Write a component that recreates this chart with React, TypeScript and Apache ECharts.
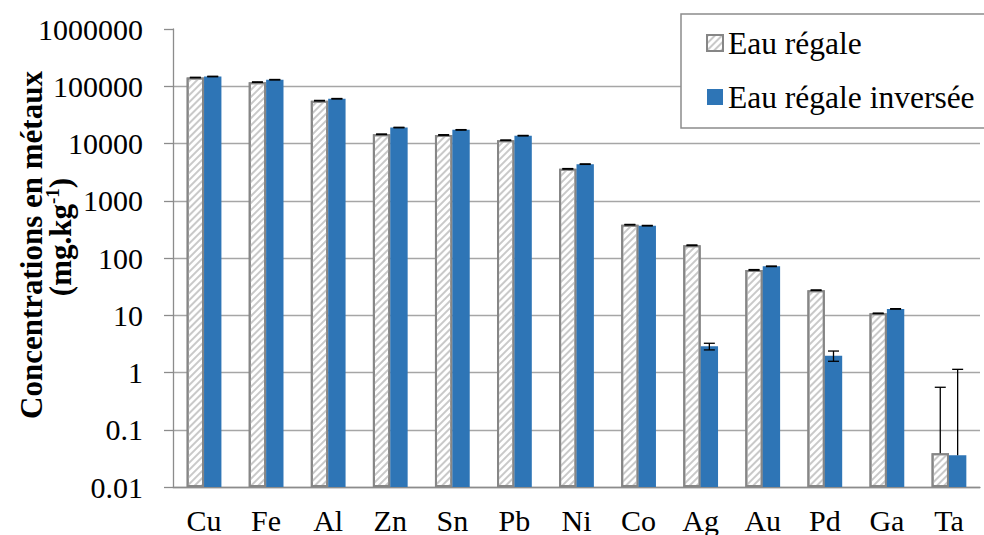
import React, { useEffect, useRef } from 'react';
import * as echarts from 'echarts';

const categories = ['Cu', 'Fe', 'Al', 'Zn', 'Sn', 'Pb', 'Ni', 'Co', 'Ag', 'Au', 'Pd', 'Ga', 'Ta'];
const seriesNames = ['Eau régale', 'Eau régale inversée'];
const eauRegale = [142000, 118000, 56000, 14500, 14100, 11400, 3610, 382, 167, 62, 27.4, 10.8, 0.039];
const eauRegaleInversee = [148000, 130000, 60500, 19000, 17300, 13700, 4360, 367, 2.86, 71.6, 1.97, 12.9, 0.036];
const errRegale = [1500, 1200, 600, 150, 150, 120, 40, 4, 2, 0.8, 0.3, 0.1, 0.513];
const errInversee = [1500, 1300, 600, 200, 180, 140, 45, 4, 0.38, 0.8, 0.4, 0.13, 1.1];
const yTickLabels = ['0.01', '0.1', '1', '10', '100', '1000', '10000', '100000', '1000000'];
const yMin = 0.01;
const yMax = 1000000;

const FONT = 'Liberation Serif';
const BLUE = '#2E75B6';
const BAR_W = 0.28;

export default function App() {
  const ref = useRef<HTMLDivElement>(null);
  useEffect(() => {
    const chart = echarts.init(ref.current!, null, { renderer: 'svg' });

    const errData: any[] = [];
    categories.forEach((_, i) => {
      const v0 = eauRegale[i], e0 = errRegale[i];
      const v1 = eauRegaleInversee[i], e1 = errInversee[i];
      errData.push([i, v0, v0 - e0 > 0 ? v0 - e0 : 0, v0 + e0, 0]);
      errData.push([i, v1, v1 - e1 > 0 ? v1 - e1 : 0, v1 + e1, 1]);
    });

    const option: any = {
      animation: false,
      textStyle: { fontFamily: FONT },
      grid: { left: 173, right: 4, top: 29, bottom: 47 },
      legend: {
        data: seriesNames,
        orient: 'vertical',
        left: 706,
        top: 27,
        padding: 0,
        itemWidth: 16,
        itemHeight: 16,
        itemGap: 22,
        icon: 'rect',
        textStyle: { fontFamily: FONT, fontSize: 31.5, lineHeight: 32, color: '#000' },
        z: 10,
      },
      graphic: [
        {
          type: 'rect',
          z: 5,
          shape: { x: 681, y: 14, width: 310, height: 114 },
          style: { fill: '#fff', stroke: '#8c8c8c', lineWidth: 1.5 },
        },
        {
          type: 'text',
          x: 31,
          y: 245,
          rotation: Math.PI / 2,
          style: {
            text: 'Concentrations en métaux',
            fontFamily: FONT,
            fontWeight: 'bold',
            fontSize: 31,
            fill: '#000',
            align: 'center',
            verticalAlign: 'middle',
          },
        },
        {
          type: 'text',
          x: 60,
          y: 237,
          rotation: Math.PI / 2,
          style: {
            text: '{a|(mg.kg}{s|-1}{a|)}',
            fontFamily: FONT,
            fontWeight: 'bold',
            fontSize: 31,
            fill: '#000',
            align: 'center',
            verticalAlign: 'middle',
            rich: {
              a: { fontFamily: FONT, fontWeight: 'bold', fontSize: 31, fill: '#000', lineHeight: 34 },
              s: { fontFamily: FONT, fontWeight: 'bold', fontSize: 19, fill: '#000', verticalAlign: 'top', lineHeight: 34 },
            },
          },
        },
      ],
      xAxis: {
        type: 'category',
        data: categories,
        axisLine: { lineStyle: { color: '#8c8c8c', width: 1.3 } },
        axisTick: { length: 8, lineStyle: { color: '#8c8c8c', width: 1.3 } },
        axisLabel: { fontFamily: FONT, fontSize: 30, color: '#000', margin: 18 },
      },
      yAxis: {
        type: 'log',
        logBase: 10,
        min: yMin,
        max: yMax,
        startValue: yMin,
        splitNumber: 8,
        axisLine: { show: true, lineStyle: { color: '#8c8c8c', width: 1.3 } },
        axisTick: { show: true, length: 9, lineStyle: { color: '#8c8c8c', width: 1.3 } },
        splitLine: { show: true, showMaxLine: false, lineStyle: { color: '#a6a6a6', width: 1.3 } },
        axisLabel: {
          fontFamily: FONT,
          fontSize: 30,
          color: '#000',
          margin: 30,
          formatter: (v: number) => yTickLabels[Math.round(Math.log10(v)) + 2] ?? String(v),
        },
      },
      series: [
        {
          name: seriesNames[0],
          type: 'bar',
          data: eauRegale,
          barWidth: BAR_W * 100 + '%',
          barGap: '0%',
          itemStyle: {
            color: '#ffffff',
            borderColor: '#868686',
            borderWidth: 2,
            decal: {
              symbol: 'rect',
              symbolSize: 1,
              color: '#c9c9c9',
              dashArrayX: [1, 0],
              dashArrayY: [2, 3],
              rotation: -Math.PI / 4,
            },
          },
        },
        {
          name: seriesNames[1],
          type: 'bar',
          data: eauRegaleInversee,
          barWidth: BAR_W * 100 + '%',
          barGap: '0%',
          itemStyle: { color: BLUE },
        },
        {
          type: 'custom',
          name: 'err',
          data: errData,
          encode: { x: 0, y: 3 },
          z: 4,
          renderItem: (params: any, api: any) => {
            const idx = api.value(0);
            const val = api.value(1);
            const lo = api.value(2);
            const hi = api.value(3);
            const s = api.value(4);
            const bw = api.size([1, 1])[0];
            const base = api.coord([idx, hi]);
            const x = base[0] + (s === 0 ? -1 : 1) * bw * BAR_W / 2;
            const yHi = base[1];
            const yLo = lo > 0 ? api.coord([idx, lo])[1] : api.coord([idx, val])[1];
            const cap = 5.5;
            const st = { stroke: '#000', lineWidth: 1.3 };
            const children: any[] = [
              { type: 'line', shape: { x1: x, y1: yHi, x2: x, y2: yLo }, style: st },
              { type: 'line', shape: { x1: x - cap, y1: yHi, x2: x + cap, y2: yHi }, style: st },
            ];
            if (lo > 0) {
              children.push({ type: 'line', shape: { x1: x - cap, y1: yLo, x2: x + cap, y2: yLo }, style: st });
            }
            return { type: 'group', children };
          },
        },
      ],
    };

    chart.setOption(option);
    return () => chart.dispose();
  }, []);
  return <div ref={ref} style={{ position: 'absolute', left: 0, top: 0, width: 984, height: 535 }} />;
}
